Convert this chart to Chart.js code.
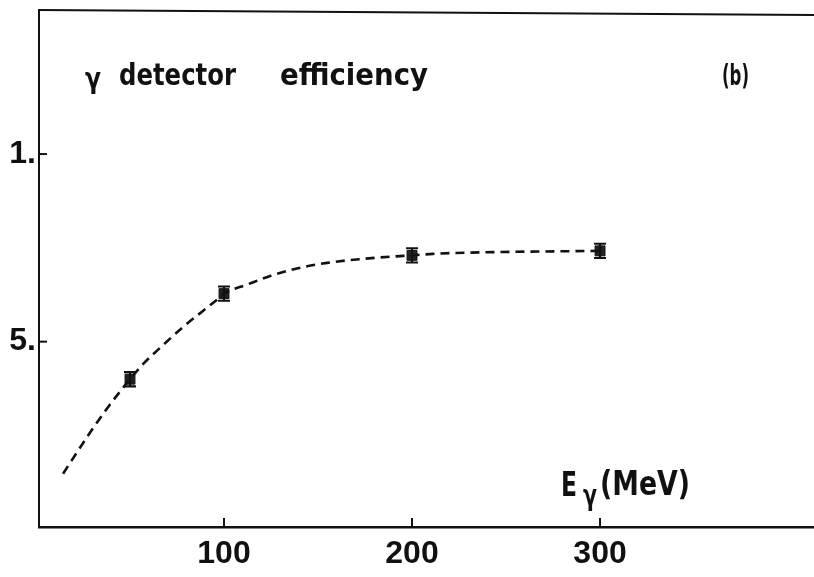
<!DOCTYPE html>
<html>
<head>
<meta charset="utf-8">
<script src="https://cdn.jsdelivr.net/npm/chart.js@4"></script>
<style>
html,body{margin:0;padding:0;background:#fff;}
#wrap{width:814px;height:577px;}
</style>
</head>
<body>
<div id="wrap"><canvas id="c" width="814" height="577"></canvas></div>
<script>
// ---- data ----
const xTickValues = [100, 200, 300];
const xTickLabels = ['100', '200', '300'];
const yTickValues = [0.5, 1.0];
const yTickLabels = ['5.', '1.'];
const energies = [50, 100, 200, 300];
const efficiency = [0.400, 0.628, 0.730, 0.742];
const effErrors = [0.019, 0.019, 0.019, 0.019];
const curveE = [14.4, 27.7, 37.8, 44.7, 50, 56.9, 67.6, 78.2, 88.8, 96.3, 100, 112.2, 124.5, 138.8, 154.8, 172.3, 189.9, 200, 211, 246.8, 282.4, 300];
const curveEff = [0.148, 0.250, 0.322, 0.367, 0.400, 0.440, 0.491, 0.539, 0.582, 0.612, 0.628, 0.652, 0.675, 0.695, 0.710, 0.720, 0.727, 0.730, 0.734, 0.739, 0.741, 0.742];
const titleLeft = ['γ', 'detector', 'efficiency'];
const titleRight = '(b)';
const axisLabel = ['E', 'γ', '(MeV)'];

const COND = '"DejaVu Sans Condensed", "DejaVu Sans", sans-serif';

function fitText(ctx, text, x, base, width, px) {
  ctx.save();
  ctx.font = 'bold ' + px + 'px ' + COND;
  ctx.textBaseline = 'alphabetic';
  ctx.textAlign = 'left';
  const w = ctx.measureText(text).width;
  ctx.translate(x, base);
  ctx.scale(width / w, 1);
  ctx.fillStyle = '#111';
  ctx.fillText(text, 0, 0);
  ctx.restore();
}

function noPad(s) {
  s.paddingTop = 0; s.paddingBottom = 0; s.paddingLeft = 0; s.paddingRight = 0;
}

const framePlugin = {
  id: 'frame',
  afterDatasetsDraw(chart) {
    const ctx = chart.ctx;
    const a = chart.chartArea;
    const xs = chart.scales.x, ys = chart.scales.y;
    ctx.save();
    ctx.strokeStyle = '#111';
    ctx.lineCap = 'butt';
    // top border
    ctx.lineWidth = 2;
    ctx.beginPath(); ctx.moveTo(a.left - 1, a.top); ctx.lineTo(a.right, a.top + 5); ctx.stroke();
    // inward ticks
    xTickValues.forEach(v => {
      const px = xs.getPixelForValue(v);
      ctx.beginPath(); ctx.moveTo(px, a.bottom); ctx.lineTo(px, a.bottom - 9); ctx.stroke();
    });
    yTickValues.forEach(v => {
      const py = ys.getPixelForValue(v);
      ctx.beginPath(); ctx.moveTo(a.left, py); ctx.lineTo(a.left + 8, py); ctx.stroke();
    });
    // error bars
    ctx.lineWidth = 2.2;
    energies.forEach((e, i) => {
      const px = xs.getPixelForValue(e);
      const y1 = ys.getPixelForValue(efficiency[i] + effErrors[i]);
      const y2 = ys.getPixelForValue(efficiency[i] - effErrors[i]);
      ctx.beginPath();
      ctx.moveTo(px, y1); ctx.lineTo(px, y2);
      ctx.moveTo(px - 6, y1); ctx.lineTo(px + 6, y1);
      ctx.moveTo(px - 6, y2); ctx.lineTo(px + 6, y2);
      ctx.stroke();
    });
    ctx.restore();
    // texts
    fitText(ctx, titleLeft[0], 85, 88, 16, 28);
    fitText(ctx, titleLeft[1], 119, 85, 117, 30);
    fitText(ctx, titleLeft[2], 280, 85, 148, 30);
    fitText(ctx, titleRight, 722, 85, 27, 29);
    fitText(ctx, axisLabel[0], 561, 496, 16, 33);
    fitText(ctx, axisLabel[1], 583, 505, 14, 28);
    fitText(ctx, axisLabel[2], 600, 495, 90, 34);
  }
};

new Chart(document.getElementById('c'), {
  type: 'scatter',
  data: {
    datasets: [
      {
        data: curveE.map((e, i) => ({x: e, y: curveEff[i]})),
        showLine: true,
        borderColor: '#111',
        borderWidth: 2.6,
        borderDash: [9, 6],
        cubicInterpolationMode: 'monotone',
        pointRadius: 0,
        fill: false
      },
      {
        data: energies.map((e, i) => ({x: e, y: efficiency[i]})),
        showLine: false,
        pointStyle: 'rect',
        pointRadius: 7,
        backgroundColor: '#222',
        borderColor: '#111',
        borderWidth: 1
      }
    ]
  },
  options: {
    responsive: false,
    animation: false,
    devicePixelRatio: 1,
    layout: {autoPadding: false, padding: {top: 10, right: 0, left: 0, bottom: 0}},
    plugins: {legend: {display: false}, tooltip: {enabled: false}, title: {display: false}},
    scales: {
      x: {
        type: 'linear',
        min: 1.6, max: 413.8,
        afterBuildTicks: s => { s.ticks = xTickValues.map(v => ({value: v})); },
        afterFit: s => { s.height = 50; noPad(s); },
        ticks: {
          callback: (v) => xTickLabels[xTickValues.indexOf(v)],
          color: '#111',
          font: {family: '"Liberation Sans", Arial, sans-serif', size: 32, weight: 'bold'},
          padding: 8,
          maxRotation: 0
        },
        grid: {display: false, drawTicks: false},
        border: {display: true, color: '#111', width: 2.5}
      },
      y: {
        type: 'linear',
        min: 0.006, max: 1.384,
        afterBuildTicks: s => { s.ticks = yTickValues.map(v => ({value: v})); },
        afterFit: s => { s.width = 39; noPad(s); },
        ticks: {
          callback: (v) => yTickLabels[yTickValues.indexOf(v)],
          color: '#111',
          font: {family: '"Liberation Sans", Arial, sans-serif', size: 32, weight: 'bold'},
          padding: 3
        },
        grid: {display: false, drawTicks: false},
        border: {display: true, color: '#111', width: 2}
      }
    }
  },
  plugins: [framePlugin]
});
</script>
</body>
</html>
